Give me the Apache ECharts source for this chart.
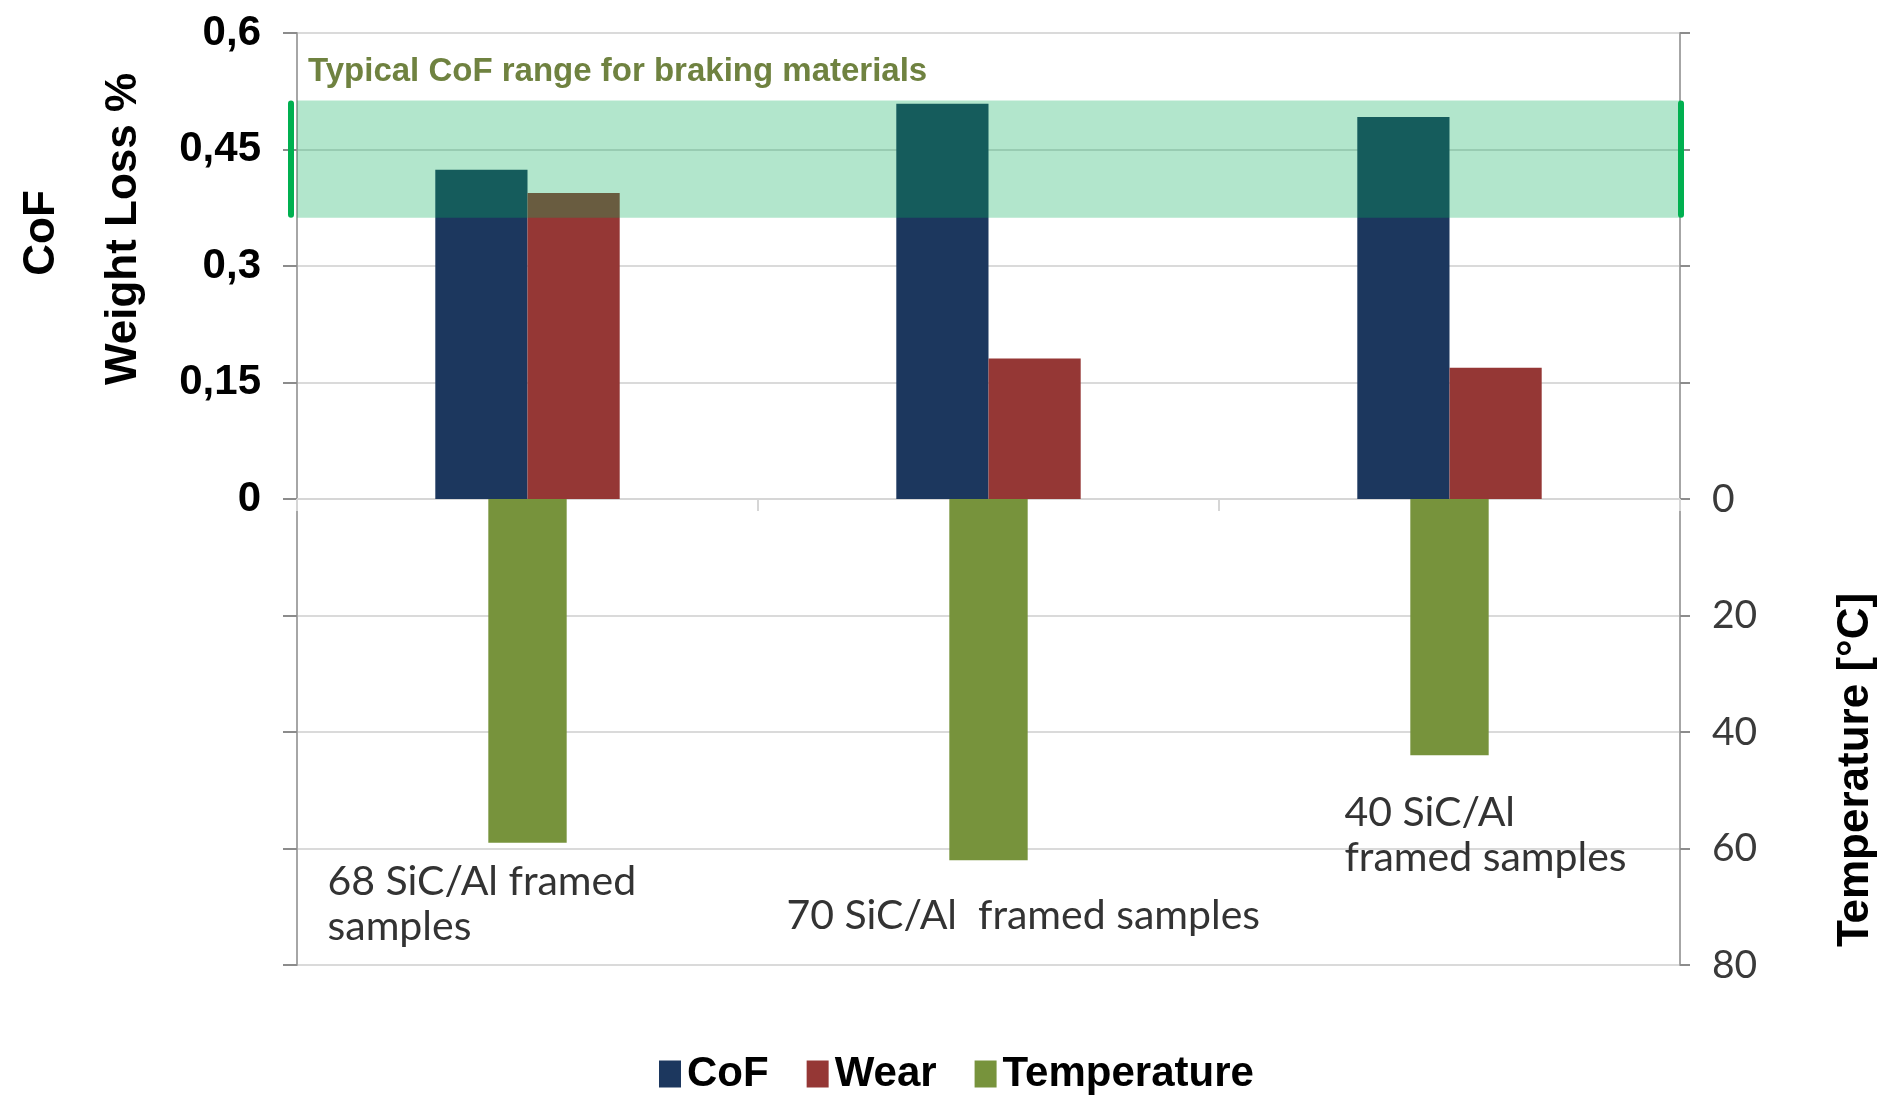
<!DOCTYPE html>
<html>
<head>
<meta charset="utf-8">
<script src="https://cdn.jsdelivr.net/npm/echarts@6/dist/echarts.min.js"></script>
<style>
  html, body { margin: 0; padding: 0; background: #ffffff; }
  #chart { width: 1902px; height: 1103px; }
</style>
</head>
<body>
<div id="chart"></div>
<script>
// Sample groups
const categories = ['68 SiC/Al framed\nsamples', '70 SiC/Al  framed samples', '40 SiC/Al\nframed samples'];

// Measured values per sample group
const cofValues = [0.424, 0.509, 0.492];          // coefficient of friction
const wearValues = [0.394, 0.181, 0.169];         // weight loss %
const temperatureValues = [59, 62, 44];           // temperature rise, °C

// Typical CoF window for braking materials
const typicalCofRange = [0.362, 0.513];

// Tick labels (only the non-negative half of each axis is labelled)
const leftTickLabels = ['0', '0,15', '0,3', '0,45', '0,6'];
const rightTickLabels = ['0', '20', '40', '60', '80'];

// Label placement of the group captions relative to the end of each temperature bar
const captionOffsets = [[-200, 17], [-202, 33], [-105, 35]];

const chart = echarts.init(document.getElementById('chart'), null, { renderer: 'canvas' });

const boldFont = '"Liberation Sans", Arial, sans-serif';
const textFont = 'Lato, "Open Sans", sans-serif';

const option = {
  animation: false,
  backgroundColor: '#ffffff',
  grid: {
    left: 297, right: 222, top: 33, bottom: 138,
    show: true, borderColor: '#a6a6a6', borderWidth: 2, backgroundColor: 'transparent'
  },
  legend: {
    data: ['CoF', 'Wear', 'Temperature'],
    left: 654,
    top: 1048,
    icon: 'rect',
    itemWidth: 22,
    itemHeight: 27,
    itemGap: 38,
    textStyle: { fontFamily: boldFont, fontWeight: 'bold', fontSize: 42, color: '#000000', padding: [0, 0, 0, 1] }
  },
  xAxis: [
    {
      type: 'category',
      data: categories,
      position: 'bottom',
      axisLine: { show: true, onZero: true, onZeroAxisIndex: 0, lineStyle: { color: '#d6d6d6', width: 2 } },
      axisTick: { show: true, length: 12, lineStyle: { color: '#d6d6d6', width: 2 } },
      axisLabel: { show: false },
      splitLine: { show: false }
    },
    {
      type: 'category',
      data: categories,
      show: false
    }
  ],
  yAxis: [
    {
      type: 'value',
      position: 'left',
      min: -0.6, max: 0.6, interval: 0.15,
      axisLine: { show: true, lineStyle: { color: '#a6a6a6', width: 2 } },
      axisTick: { show: true, length: 14, lineStyle: { color: '#8c8c8c', width: 2 } },
      axisLabel: {
        margin: 36,
        color: '#000000',
        fontFamily: boldFont,
        fontWeight: 'bold',
        fontSize: 42,
        formatter: function (v) {
          const i = Math.round(v / 0.15);
          return i >= 0 ? leftTickLabels[i] : '';
        }
      },
      splitLine: { show: true, lineStyle: { color: '#dadada', width: 2 } }
    },
    {
      type: 'value',
      position: 'right',
      inverse: true,
      min: -80, max: 80, interval: 20,
      axisLine: { show: true, lineStyle: { color: '#a6a6a6', width: 2 } },
      axisTick: { show: true, length: 10, lineStyle: { color: '#8c8c8c', width: 2 } },
      axisLabel: {
        margin: 32,
        color: '#3a3a3a',
        fontFamily: textFont,
        fontSize: 39,
        formatter: function (v) {
          const i = Math.round(v / 20);
          return i >= 0 ? rightTickLabels[i] : '';
        }
      },
      splitLine: { show: false }
    }
  ],
  series: [
    {
      name: 'CoF',
      type: 'bar',
      xAxisIndex: 0, yAxisIndex: 0,
      data: cofValues,
      barWidth: '20%',
      barGap: '0%',
      z: 2,
      itemStyle: { color: '#1c375e' }
    },
    {
      name: 'Wear',
      type: 'bar',
      xAxisIndex: 0, yAxisIndex: 0,
      data: wearValues,
      barWidth: '20%',
      barGap: '0%',
      z: 2,
      itemStyle: { color: '#953735' }
    },
    {
      name: 'Temperature',
      type: 'bar',
      xAxisIndex: 1, yAxisIndex: 1,
      data: temperatureValues.map(function (v, i) {
        return { value: v, label: { offset: captionOffsets[i] } };
      }),
      barWidth: '17%',
      z: 2,
      itemStyle: { color: '#77933c' },
      label: {
        show: true,
        position: 'bottom',
        distance: 0,
        align: 'left',
        verticalAlign: 'top',
        color: '#333333',
        fontFamily: textFont,
        fontSize: 41,
        lineHeight: 45,
        formatter: function (p) { return categories[p.dataIndex]; }
      }
    },
    {
      // translucent CoF band drawn above the bars, with its edge markers and caption
      name: 'band',
      type: 'custom',
      xAxisIndex: 0, yAxisIndex: 0,
      z: 5,
      silent: true,
      clip: false,
      data: [typicalCofRange],
      renderItem: function (params, api) {
        const cs = params.coordSys;
        const yLow = api.coord([0, api.value(0)])[1];
        const yHigh = api.coord([0, api.value(1)])[1];
        return {
          type: 'group',
          children: [
            {
              type: 'rect',
              shape: { x: cs.x, y: yHigh, width: cs.width, height: yLow - yHigh },
              style: { fill: 'rgba(8,174,89,0.31)' }
            },
            {
              type: 'line',
              shape: { x1: cs.x - 6, y1: yHigh + 3, x2: cs.x - 6, y2: yLow - 3 },
              style: { stroke: '#00b050', lineWidth: 6, lineCap: 'round' }
            },
            {
              type: 'line',
              shape: { x1: cs.x + cs.width + 1, y1: yHigh + 3, x2: cs.x + cs.width + 1, y2: yLow - 3 },
              style: { stroke: '#00b050', lineWidth: 6, lineCap: 'round' }
            },
            {
              type: 'text',
              x: cs.x + 11,
              y: yHigh - 29,
              style: {
                text: 'Typical CoF range for braking materials',
                fill: '#6f8240',
                font: 'bold 33px ' + boldFont,
                align: 'left', textAlign: 'left',
                verticalAlign: 'middle', textVerticalAlign: 'middle'
              }
            }
          ]
        };
      }
    }
  ],
  graphic: [
    {
      type: 'text', x: 42, y: 233, rotation: Math.PI / 2,
      style: {
        text: 'CoF', fill: '#000000', font: 'bold 44px ' + boldFont,
        align: 'center', textAlign: 'center', verticalAlign: 'middle', textVerticalAlign: 'middle'
      }
    },
    {
      type: 'text', x: 124, y: 229, rotation: Math.PI / 2,
      style: {
        text: 'Weight Loss %', fill: '#000000', font: 'bold 44px ' + boldFont,
        align: 'center', textAlign: 'center', verticalAlign: 'middle', textVerticalAlign: 'middle'
      }
    },
    {
      type: 'text', x: 1856, y: 770, rotation: Math.PI / 2,
      style: {
        text: 'Temperature [°C]', fill: '#000000', font: 'bold 44px ' + boldFont,
        align: 'center', textAlign: 'center', verticalAlign: 'middle', textVerticalAlign: 'middle'
      }
    }
  ]
};

chart.setOption(option);
</script>
</body>
</html>
